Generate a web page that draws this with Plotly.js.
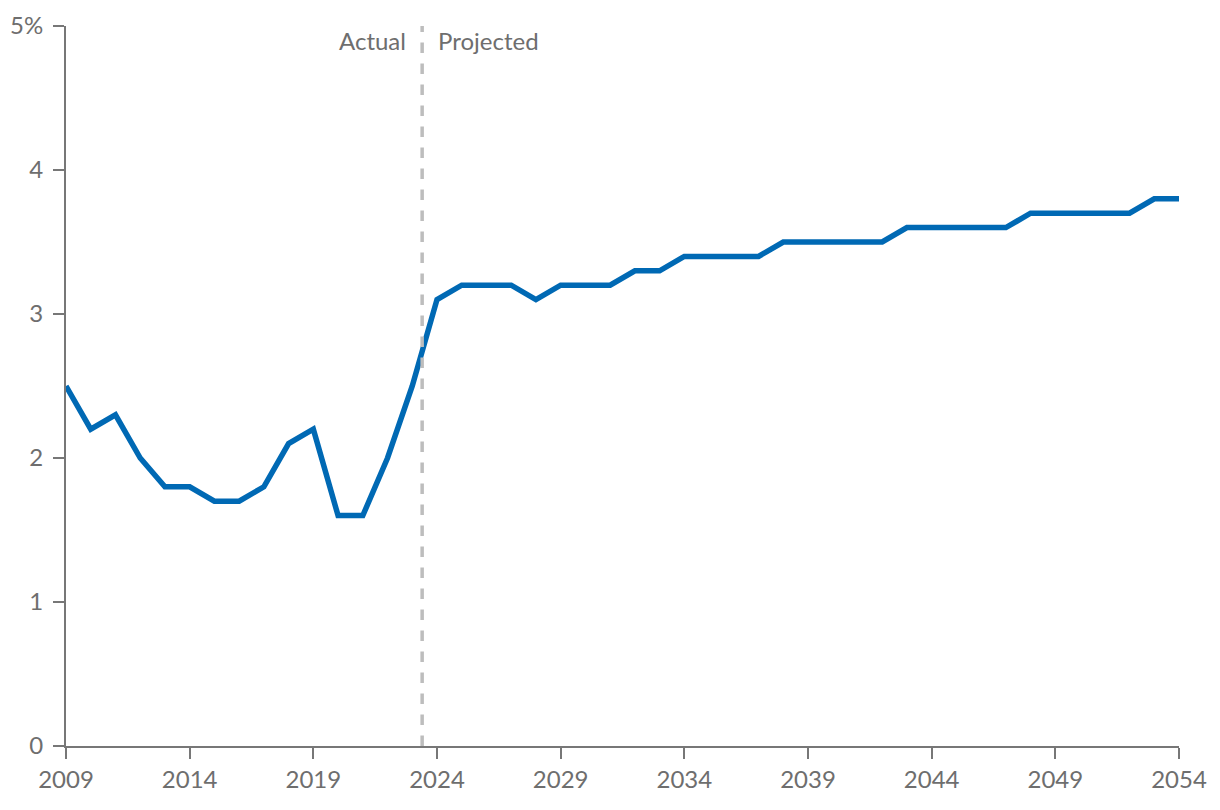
<!DOCTYPE html>
<html>
<head>
<meta charset="utf-8">
<script src="https://cdn.plot.ly/plotly-3.0.1.min.js"></script>
<style>
  body { margin: 0; background: #fff; }
  #myPlot { width: 1220px; height: 810px; }
</style>
</head>
<body>
<div id="myPlot"></div>
<script>
// years and rate values (percent)
var years = [2009, 2010, 2011, 2012, 2013, 2014, 2015, 2016, 2017, 2018,
             2019, 2020, 2021, 2022, 2023, 2024, 2025, 2026, 2027, 2028,
             2029, 2030, 2031, 2032, 2033, 2034, 2035, 2036, 2037, 2038,
             2039, 2040, 2041, 2042, 2043, 2044, 2045, 2046, 2047, 2048,
             2049, 2050, 2051, 2052, 2053, 2054];
var rates = [2.5, 2.2, 2.3, 2.0, 1.8, 1.8, 1.7, 1.7, 1.8, 2.1,
             2.2, 1.6, 1.6, 2.0, 2.5, 3.1, 3.2, 3.2, 3.2, 3.1,
             3.2, 3.2, 3.2, 3.3, 3.3, 3.4, 3.4, 3.4, 3.4, 3.5,
             3.5, 3.5, 3.5, 3.5, 3.6, 3.6, 3.6, 3.6, 3.6, 3.7,
             3.7, 3.7, 3.7, 3.7, 3.8, 3.8];

var xTicks = [2009, 2014, 2019, 2024, 2029, 2034, 2039, 2044, 2049, 2054];
var yTicks = [0, 1, 2, 3, 4, 5];
var yTickText = ['0', '1', '2', '3', '4', '5%'];

var splitYear = 2023.4; // actual / projected divider

var grey = '#6e6e6e';

var trace1 = {
  x: years,
  y: rates,
  type: 'scatter',
  mode: 'lines',
  line: {color: '#0069b4', width: 5.5},
  hoverinfo: 'x+y'
};

var layout = {
  width: 1220,
  height: 810,
  margin: {l: 66, r: 41, t: 26, b: 64},
  paper_bgcolor: '#fff',
  plot_bgcolor: '#fff',
  showlegend: false,
  font: {family: 'Lato, "Open Sans", sans-serif', size: 24, color: grey},
  xaxis: {
    range: [2009, 2054],
    tickvals: xTicks,
    ticktext: xTicks.map(String),
    showgrid: false,
    zeroline: false,
    showline: true,
    linecolor: '#777',
    linewidth: 2,
    ticks: 'outside',
    ticklen: 11,
    tickwidth: 2,
    tickcolor: '#777',
    tickfont: {size: 24, color: grey}
  },
  yaxis: {
    range: [0, 5],
    tickvals: yTicks,
    ticktext: yTickText,
    showgrid: false,
    zeroline: false,
    showline: true,
    linecolor: '#777',
    linewidth: 2,
    ticks: 'outside',
    ticklen: 11,
    tickwidth: 2,
    tickcolor: '#777',
    ticklabelstandoff: 5,
    tickfont: {size: 24, color: grey}
  },
  shapes: [{
    type: 'line',
    xref: 'x', yref: 'y',
    x0: splitYear, x1: splitYear,
    y0: 0, y1: 5,
    line: {color: '#bdbdbd', width: 3.5, dash: 'dash'}
  }],
  annotations: [
    {x: splitYear, y: 5, xref: 'x', yref: 'y', text: 'Actual',
     showarrow: false, xanchor: 'right', yanchor: 'top', xshift: -14, yshift: 2,
     font: {size: 24, color: grey}},
    {x: splitYear, y: 5, xref: 'x', yref: 'y', text: 'Projected',
     showarrow: false, xanchor: 'left', yanchor: 'top', xshift: 14, yshift: 2,
     font: {size: 24, color: grey}}
  ]
};

Plotly.newPlot('myPlot', [trace1], layout, {displayModeBar: false});
</script>
</body>
</html>
